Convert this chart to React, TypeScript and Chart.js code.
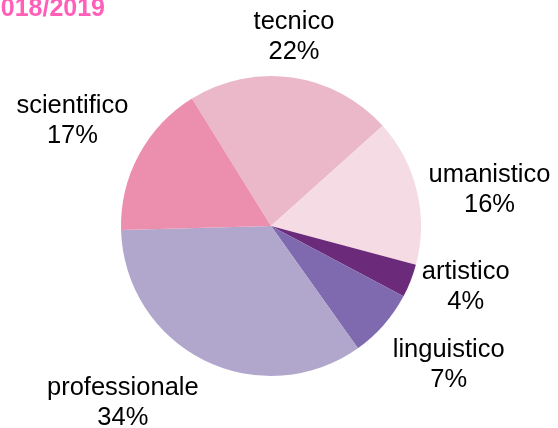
import React, { useEffect, useRef } from "react";
import { Chart, registerables } from "chart.js";

Chart.register(...registerables);

const categories = ["tecnico", "umanistico", "artistico", "linguistico", "professionale", "scientifico"];
const values = [22.2, 15.8, 3.6, 7.4, 34.4, 16.6];
const colors = ["#EBB8C9", "#F5DBE3", "#6B2A7A", "#7F6AB0", "#B1A6CB", "#EC8FAE"];
const titleText = "2018/2019";

const FONT_SIZE = 25.5;
const LINE_H = 30;
const GAP = 12;

const labelPlugin = {
  id: "outsideLabels",
  afterDraw(chart: any) {
    const ctx = chart.ctx;
    const meta = chart.getDatasetMeta(0);
    const total = values.reduce((a, b) => a + b, 0);
    ctx.save();
    ctx.font = `${FONT_SIZE}px "Liberation Sans", Arial, sans-serif`;
    ctx.fillStyle = "#000000";
    ctx.textBaseline = "alphabetic";
    ctx.textAlign = "center";
    meta.data.forEach((arc: any, i: number) => {
      const { x, y, startAngle, endAngle, outerRadius } = arc.getProps(
        ["x", "y", "startAngle", "endAngle", "outerRadius"],
        true
      );
      const mid = (startAngle + endAngle) / 2;
      const ax = x + Math.cos(mid) * (outerRadius + GAP);
      const ay = y + Math.sin(mid) * (outerRadius + GAP);
      const lines = [categories[i], Math.round((values[i] / total) * 100) + "%"];
      const w = Math.max(...lines.map((l) => ctx.measureText(l).width));
      const h = LINE_H * lines.length;
      let deg = (-mid * 180) / Math.PI;
      deg = ((deg % 360) + 360) % 360;
      let hx = 0;
      let vy = 0;
      if (deg <= 22.5 || deg >= 337.5) { hx = 1; vy = 0; }
      else if (deg < 67.5) { hx = 1; vy = -1; }
      else if (deg < 112.5) { hx = 0; vy = -1; }
      else if (deg <= 157.5) { hx = -1; vy = -1; }
      else if (deg <= 202.5) { hx = -1; vy = 0; }
      else if (deg < 247.5) { hx = -1; vy = 1; }
      else if (deg < 292.5) { hx = 0; vy = 1; }
      else { hx = 1; vy = 1; }
      const cx = ax + (hx * w) / 2;
      const cy = ay + (vy * h) / 2;
      const top = cy - h / 2;
      lines.forEach((l, j) => {
        ctx.fillText(l, cx, top + j * LINE_H + 23.8);
      });
    });
    ctx.font = `bold 25px "Liberation Sans", Arial, sans-serif`;
    ctx.fillStyle = "#FF5FB9";
    ctx.textAlign = "right";
    ctx.fillText(titleText, 105, 16);
    ctx.restore();
  },
};

export default function App() {
  const ref = useRef<HTMLCanvasElement>(null);
  useEffect(() => {
    if (!ref.current) return;
    const chart = new Chart(ref.current, {
      type: "pie",
      data: {
        labels: categories,
        datasets: [
          {
            data: values,
            backgroundColor: colors,
            borderWidth: 0,
          },
        ],
      },
      options: {
        responsive: false,
        animation: false,
        rotation: -31.8,
        layout: { padding: { top: 76, bottom: 52, left: 121, right: 137 } },
        plugins: {
          legend: { display: false },
          tooltip: { enabled: false },
          title: { display: false },
        },
      },
      plugins: [labelPlugin],
    });
    return () => chart.destroy();
  }, []);
  return (
    <div style={{ position: "fixed", left: 0, top: 0, width: 558, height: 428, background: "#fff" }}>
      <canvas ref={ref} width={558} height={428} />
    </div>
  );
}
